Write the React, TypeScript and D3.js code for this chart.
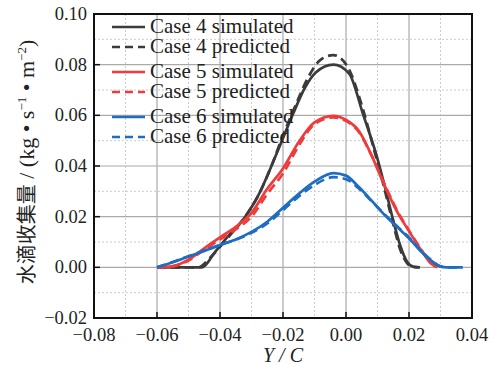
import { useEffect, useRef } from "react";
import * as d3 from "d3";

// x ticks / y ticks
const xTicks = [ -0.08, -0.06, -0.04, -0.02, 0.0, 0.02, 0.04 ];
const yTicks = [ -0.02, 0.0, 0.02, 0.04, 0.06, 0.08, 0.10 ];

// Case 4
const case4SimX = [ -0.06, -0.0457, -0.0416, -0.0375, -0.032, -0.028, -0.024, -0.02, -0.017, -0.013, -0.0095, -0.004, 0.001, 0.0054, 0.0098, 0.0125, 0.0149, 0.0171, 0.0195, 0.0215, 0.0235 ];
const case4SimY = [ 0, 0, 0.006, 0.0122, 0.020, 0.028, 0.039, 0.051, 0.060, 0.071, 0.077, 0.080, 0.0765, 0.0605, 0.0437, 0.031, 0.019, 0.009, 0.002, 0.0002, 0 ];
const case4PredX = [ -0.06, -0.047, -0.043, -0.038, -0.032, -0.028, -0.024, -0.02, -0.016, -0.012, -0.008, -0.004, 0.0006, 0.005, 0.009, 0.012, 0.015, 0.0175, 0.0195, 0.021, 0.023 ];
const case4PredY = [ 0, 0, 0.004, 0.011, 0.020, 0.028, 0.039, 0.052, 0.064, 0.075, 0.082, 0.0838, 0.079, 0.064, 0.046, 0.032, 0.017, 0.006, 0.0015, 0.0003, 0 ];

// Case 5
const case5SimX = [ -0.06, -0.055, -0.05, -0.045, -0.04, -0.035, -0.03, -0.025, -0.02, -0.015, -0.01, -0.004, 0.0, 0.004, 0.008, 0.012, 0.016, 0.02, 0.024, 0.027, 0.029 ];
const case5SimY = [ 0, 0.0005, 0.003, 0.0075, 0.0118, 0.016, 0.0215, 0.031, 0.039, 0.0495, 0.0572, 0.0598, 0.0582, 0.054, 0.0445, 0.033, 0.0225, 0.0143, 0.0065, 0.0015, 0 ];
const case5PredX = [ -0.06, -0.055, -0.05, -0.045, -0.04, -0.035, -0.03, -0.025, -0.02, -0.015, -0.01, -0.004, 0.0, 0.004, 0.008, 0.012, 0.016, 0.02, 0.024, 0.027, 0.029 ];
const case5PredY = [ 0, 0.0004, 0.0027, 0.007, 0.011, 0.015, 0.020, 0.029, 0.037, 0.048, 0.0565, 0.0592, 0.0578, 0.0535, 0.0445, 0.0335, 0.023, 0.0145, 0.0068, 0.0017, 0 ];

// Case 6
const case6SimX = [ -0.06, -0.055, -0.05, -0.045, -0.04, -0.035, -0.03, -0.025, -0.02, -0.015, -0.01, -0.004, 0.0, 0.004, 0.008, 0.012, 0.016, 0.02, 0.024, 0.027, 0.03, 0.032, 0.037 ];
const case6SimY = [ 0, 0.002, 0.0043, 0.0065, 0.0088, 0.011, 0.014, 0.018, 0.0235, 0.029, 0.0338, 0.0372, 0.0362, 0.0318, 0.0265, 0.021, 0.0162, 0.0115, 0.006, 0.0027, 0.0003, 0, 0 ];
const case6PredX = [ -0.06, -0.055, -0.05, -0.045, -0.04, -0.035, -0.03, -0.025, -0.02, -0.015, -0.01, -0.004, 0.0, 0.004, 0.008, 0.012, 0.016, 0.02, 0.024, 0.027, 0.03, 0.032, 0.037 ];
const case6PredY = [ 0, 0.0021, 0.0044, 0.0066, 0.0088, 0.0109, 0.0136, 0.0173, 0.0226, 0.028, 0.0325, 0.0356, 0.0348, 0.0312, 0.0263, 0.0212, 0.0165, 0.0118, 0.0063, 0.0029, 0.0004, 0, 0 ];

const legendLabels = [ "Case 4 simulated", "Case 4 predicted", "Case 5 simulated", "Case 5 predicted", "Case 6 simulated", "Case 6 predicted" ];

const BLACK = "#3b3b3b";
const RED = "#ef3b3b";
const BLUE = "#1f6dc0";

const series = [
    { xs: case4SimX, ys: case4SimY, color: BLACK, dashed: false },
    { xs: case4PredX, ys: case4PredY, color: BLACK, dashed: true },
    { xs: case5SimX, ys: case5SimY, color: RED, dashed: false },
    { xs: case5PredX, ys: case5PredY, color: RED, dashed: true },
    { xs: case6SimX, ys: case6SimY, color: BLUE, dashed: false },
    { xs: case6PredX, ys: case6PredY, color: BLUE, dashed: true },
];

const SERIF = "'Liberation Serif', 'Times New Roman', serif";

export default function App ()
{
    const svgRef = useRef<SVGSVGElement>( null );

    useEffect( () =>
    {
        if ( !svgRef.current ) return;
        const svg = d3.select( svgRef.current );
        svg.selectAll( "*" ).remove();

        const W = 495, H = 365;
        const left = 94, right = 472, top = 14, bottom = 318;

        svg.attr( "width", W ).attr( "height", H );

        const x = d3.scaleLinear().domain( [ -0.08, 0.04 ] ).range( [ left, right ] );
        const y = d3.scaleLinear().domain( [ -0.02, 0.10 ] ).range( [ bottom, top ] );

        svg.append( "rect" ).attr( "width", W ).attr( "height", H ).attr( "fill", "#fff" );

        // minor grid
        const minorX = d3.range( -0.07, 0.04, 0.02 );
        const minorY = d3.range( -0.01, 0.1, 0.02 );
        const grid = svg.append( "g" );
        minorX.forEach( ( v ) =>
        {
            grid.append( "line" ).attr( "x1", x( v ) ).attr( "x2", x( v ) ).attr( "y1", top ).attr( "y2", bottom )
                .attr( "stroke", "#cccccc" ).attr( "stroke-width", 1 ).attr( "stroke-dasharray", "2,2" );
        } );
        minorY.forEach( ( v ) =>
        {
            grid.append( "line" ).attr( "x1", left ).attr( "x2", right ).attr( "y1", y( v ) ).attr( "y2", y( v ) )
                .attr( "stroke", "#cccccc" ).attr( "stroke-width", 1 ).attr( "stroke-dasharray", "2,2" );
        } );
        // major grid
        xTicks.slice( 1, -1 ).forEach( ( v ) =>
        {
            grid.append( "line" ).attr( "x1", x( v ) ).attr( "x2", x( v ) ).attr( "y1", top ).attr( "y2", bottom )
                .attr( "stroke", "#aaaaaa" ).attr( "stroke-width", 1.2 );
        } );
        yTicks.slice( 1, -1 ).forEach( ( v ) =>
        {
            grid.append( "line" ).attr( "x1", left ).attr( "x2", right ).attr( "y1", y( v ) ).attr( "y2", y( v ) )
                .attr( "stroke", "#aaaaaa" ).attr( "stroke-width", 1.2 );
        } );

        // curves
        const line = d3.line<[ number, number ]>()
            .x( ( d ) => x( d[ 0 ] ) ).y( ( d ) => y( d[ 1 ] ) )
            .curve( d3.curveMonotoneX );

        series.forEach( ( s ) =>
        {
            const pts = s.xs.map( ( v, i ) => [ v, s.ys[ i ] ] as [ number, number ] );
            svg.append( "path" ).attr( "d", line( pts ) ).attr( "fill", "none" )
                .attr( "stroke", s.color ).attr( "stroke-width", 2.7 )
                .attr( "stroke-linejoin", "round" )
                .attr( "stroke-dasharray", s.dashed ? "9,5" : null );
        } );

        // frame
        svg.append( "rect" ).attr( "x", left ).attr( "y", top ).attr( "width", right - left ).attr( "height", bottom - top )
            .attr( "fill", "none" ).attr( "stroke", "#111" ).attr( "stroke-width", 2 );

        // ticks (inward)
        const fmt = ( v: number ) => d3.format( ".2f" )( v ).replace( "-", "\u2212" );
        xTicks.forEach( ( v ) =>
        {
            svg.append( "line" ).attr( "x1", x( v ) ).attr( "x2", x( v ) ).attr( "y1", bottom ).attr( "y2", bottom - 6 )
                .attr( "stroke", "#111" ).attr( "stroke-width", 1.5 );
            svg.append( "text" ).attr( "x", x( v ) ).attr( "y", 341 ).attr( "text-anchor", "middle" )
                .style( "font-family", SERIF ).style( "font-size", "18.5px" ).attr( "fill", "#222" )
                .text( fmt( v ) );
        } );
        yTicks.forEach( ( v ) =>
        {
            svg.append( "line" ).attr( "x1", left ).attr( "x2", left + 6 ).attr( "y1", y( v ) ).attr( "y2", y( v ) )
                .attr( "stroke", "#111" ).attr( "stroke-width", 1.5 );
            svg.append( "text" ).attr( "x", 87 ).attr( "y", y( v ) + 6 ).attr( "text-anchor", "end" )
                .style( "font-family", SERIF ).style( "font-size", "18.5px" ).attr( "fill", "#222" )
                .text( fmt( v ) );
        } );

        // x title
        svg.append( "text" ).attr( "x", ( left + right ) / 2 ).attr( "y", 362 ).attr( "text-anchor", "middle" )
            .style( "font-family", SERIF ).style( "font-size", "20px" ).style( "font-style", "italic" ).attr( "fill", "#222" )
            .text( "Y / C" );

        // y title
        const yt = svg.append( "text" ).attr( "transform", "translate(34,162) rotate(-90)" ).attr( "text-anchor", "middle" )
            .style( "font-family", SERIF ).style( "font-size", "22px" ).attr( "fill", "#222" );
        yt.append( "tspan" ).style( "font-family", "'Noto Sans CJK SC', sans-serif" ).style( "font-size", "20px" ).text( "水滴收集量" );
        yt.append( "tspan" ).text( " / (kg \u2022 s" );
        yt.append( "tspan" ).attr( "dy", -8 ).style( "font-size", "13px" ).text( "\u22121" );
        yt.append( "tspan" ).attr( "dy", 8 ).text( " \u2022 m" );
        yt.append( "tspan" ).attr( "dy", -8 ).style( "font-size", "13px" ).text( "\u22122" );
        yt.append( "tspan" ).attr( "dy", 8 ).text( ")" );

        // legend
        const rowY = [ 27, 47, 72, 92, 117, 137 ];
        const lg = svg.append( "g" );
        series.forEach( ( s, i ) =>
        {
            lg.append( "line" ).attr( "x1", 112 ).attr( "x2", 145 ).attr( "y1", rowY[ i ] ).attr( "y2", rowY[ i ] )
                .attr( "stroke", s.color ).attr( "stroke-width", 2.7 )
                .attr( "stroke-dasharray", s.dashed ? "8,5" : null );
            lg.append( "text" ).attr( "x", 150 ).attr( "y", rowY[ i ] + 6 )
                .style( "font-family", SERIF ).style( "font-size", "21px" ).attr( "fill", "#222" )
                .text( legendLabels[ i ] );
        } );
    }, [] );

    return (
        <svg ref={ svgRef } style={ { position: "fixed", left: 0, top: 0, display: "block" } } />
    );
}
